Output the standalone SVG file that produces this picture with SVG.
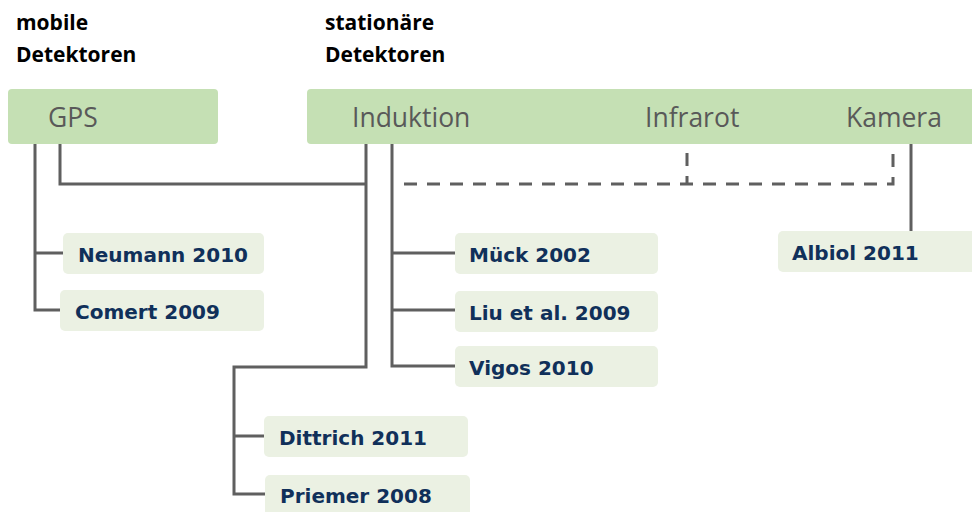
<svg xmlns="http://www.w3.org/2000/svg" width="972" height="512" viewBox="0 0 972 512">
<style>
.title{font-family:"Open Sans","Liberation Sans",sans-serif;font-weight:bold;font-size:21px;fill:#000}
.hbox{fill:#c5e0b4}
.htxt{font-family:"Open Sans","Liberation Sans",sans-serif;font-size:26.5px;fill:#595959}
.leaf{fill:#ebf1e3}
.ltxt{font-family:"DejaVu Sans",Verdana,sans-serif;font-weight:bold;font-size:20px;fill:#10305a}
.con{fill:none;stroke:#5f5f5f;stroke-width:3;stroke-linejoin:miter}
.dash{fill:none;stroke:#5f5f5f;stroke-width:3;stroke-dasharray:13 10}
</style>
<g id="titles">
<text class="title" x="16" y="30">mobile</text>
<text class="title" x="16" y="62">Detektoren</text>
<text class="title" x="325" y="30">stationäre</text>
<text class="title" x="325" y="62">Detektoren</text>
</g>
<g id="connectors">
<path class="con" d="M35,144 V310 H61 M35,253 H64"/>
<path class="con" d="M60,144 V184 H367"/>
<path class="con" d="M366,144 V367 H234 V494 H266 M234,436 H265"/>
<path class="con" d="M392,144 V366 H456 M392,253 H456 M392,310 H456"/>
<path class="dash" d="M404,184 H893 V150"/>
<path class="dash" d="M687,153 V184"/>
<path class="con" d="M911,144 V232"/>
</g>
<g id="gps">
<rect class="hbox" x="8" y="89" width="210" height="55" rx="4"/>
<text class="htxt" x="48" y="127">GPS</text>
</g>
<g id="stationaer">
<rect class="hbox" x="307" y="89" width="675" height="55" rx="4"/>
<text class="htxt" x="352" y="127">Induktion</text>
<text class="htxt" x="645" y="127">Infrarot</text>
<text class="htxt" x="846" y="127">Kamera</text>
</g>
<g id="neumann">
<rect class="leaf" x="63" y="233" width="201" height="41" rx="5"/>
<text class="ltxt" x="78" y="262">Neumann 2010</text>
</g>
<g id="comert">
<rect class="leaf" x="60" y="290" width="204" height="41" rx="5"/>
<text class="ltxt" x="75" y="319">Comert 2009</text>
</g>
<g id="mueck">
<rect class="leaf" x="455" y="233" width="203" height="41" rx="5"/>
<text class="ltxt" x="469" y="262">Mück 2002</text>
</g>
<g id="liu">
<rect class="leaf" x="455" y="291" width="203" height="41" rx="5"/>
<text class="ltxt" x="469" y="320">Liu et al. 2009</text>
</g>
<g id="vigos">
<rect class="leaf" x="455" y="346" width="203" height="41" rx="5"/>
<text class="ltxt" x="469" y="375">Vigos 2010</text>
</g>
<g id="albiol">
<rect class="leaf" x="778" y="231" width="204" height="41" rx="5"/>
<text class="ltxt" x="792" y="260">Albiol 2011</text>
</g>
<g id="dittrich">
<rect class="leaf" x="264" y="416" width="204" height="41" rx="5"/>
<text class="ltxt" x="279" y="445">Dittrich 2011</text>
</g>
<g id="priemer">
<rect class="leaf" x="265" y="475" width="205" height="45" rx="5"/>
<text class="ltxt" x="280" y="503">Priemer 2008</text>
</g>
</svg>
